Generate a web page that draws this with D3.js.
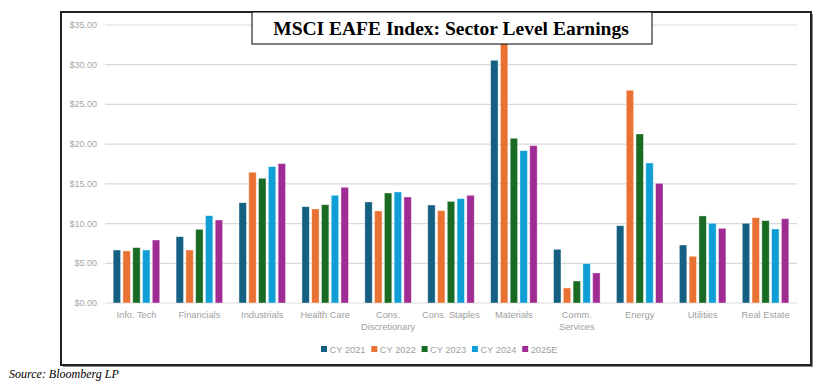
<!DOCTYPE html>
<html><head><meta charset="utf-8">
<script src="https://cdn.jsdelivr.net/npm/d3@7"></script>
<style>body{margin:0;background:#fff}svg{display:block}</style>
</head><body>
<svg id="c" width="828" height="391"></svg>
<script>
const categories = [["Info. Tech"],["Financials"],["Industrials"],["Health Care"],["Cons.","Discretionary"],["Cons. Staples"],["Materials"],["Comm.","Services"],["Energy"],["Utilities"],["Real Estate"]];
const seriesNames = ["CY 2021","CY 2022","CY 2023","CY 2024","2025E"];
const colors = ["#156082","#E97132","#196B24","#0F9ED5","#A02B93"];
const cy2021 = [6.67, 8.35, 12.63, 12.13, 12.72, 12.34, 30.56, 6.76, 9.74, 7.30, 10.04];
const cy2022 = [6.55, 6.67, 16.46, 11.84, 11.59, 11.63, 33.50, 1.89, 26.79, 5.88, 10.74];
const cy2023 = [6.97, 9.28, 15.70, 12.38, 13.85, 12.80, 20.74, 2.77, 21.28, 10.96, 10.37];
const cy2024 = [6.67, 11.00, 17.17, 13.56, 13.98, 13.14, 19.18, 4.95, 17.63, 10.04, 9.32];
const e2025 = [7.93, 10.45, 17.55, 14.57, 13.35, 13.56, 19.81, 3.78, 15.07, 9.40, 10.62];
const yTicks = [0,5,10,15,20,25,30,35];
const title = "MSCI EAFE Index: Sector Level Earnings";
const source = "Source: Bloomberg LP";
const series = [cy2021, cy2022, cy2023, cy2024, e2025];

const svg = d3.select("#c");
// frame with shadow
svg.append("rect").attr("x",63).attr("y",14).attr("width",750).attr("height",353).attr("fill","#888");
svg.append("rect").attr("x",61).attr("y",12).attr("width",750).attr("height",353).attr("fill","#fff").attr("stroke","#222").attr("stroke-width",2);

const x0 = d3.scaleBand().domain(d3.range(categories.length)).range([105,797]).paddingInner(0.26).paddingOuter(0.13);
const x1 = d3.scaleBand().domain(d3.range(series.length)).range([0,x0.bandwidth()]).paddingInner(0.24);
const y = d3.scaleLinear().domain([0,35]).range([303,25]);

const font = "'Liberation Sans', Arial, sans-serif";
// grid
svg.append("g").selectAll("line").data(yTicks).join("line")
  .attr("x1",105).attr("x2",797).attr("y1",d=>y(d)).attr("y2",d=>y(d))
  .attr("stroke","#d9d9d9").attr("stroke-width",1.2);
svg.append("g").selectAll("text").data(yTicks).join("text")
  .attr("x",97).attr("y",d=>y(d)+3).attr("text-anchor","end")
  .attr("font-family",font).attr("font-size",9).attr("fill","#a6a6a6")
  .text(d=>"$"+d.toFixed(2));

// bars
series.forEach((vals,si)=>{
  svg.append("g").selectAll("rect").data(vals).join("rect")
    .attr("x",(d,i)=>x0(i)+x1(si)).attr("width",x1.bandwidth())
    .attr("y",d=>y(d)).attr("height",d=>y(0)-y(d))
    .attr("fill",colors[si]).attr("stroke","#fff").attr("stroke-opacity",0.5).attr("stroke-width",0.8);
});

// category labels
const cl = svg.append("g");
categories.forEach((lines,i)=>{
  const t = cl.append("text").attr("x",x0(i)+x0.bandwidth()/2).attr("y",318)
    .attr("text-anchor","middle").attr("font-family",font).attr("font-size",9.3).attr("fill","#a0a0a0");
  lines.forEach((l,k)=>t.append("tspan").attr("x",x0(i)+x0.bandwidth()/2).attr("dy",k?12:0).text(l));
});

// legend
const lg = svg.append("g");
seriesNames.forEach((n,i)=>{
  const lx = 321 + i*50.3;
  lg.append("rect").attr("x",lx).attr("y",346).attr("width",6).attr("height",6).attr("fill",colors[i]);
  lg.append("text").attr("x",lx+8.5).attr("y",352.5).attr("font-family",font).attr("font-size",9.3).attr("fill","#a0a0a0").text(n);
});

// title box
svg.append("rect").attr("x",252).attr("y",12).attr("width",400).attr("height",32).attr("fill","#fff").attr("stroke","#000").attr("stroke-width",1);
svg.append("text").attr("x",451).attr("y",35).attr("text-anchor","middle")
  .attr("font-family","'Liberation Serif','Times New Roman',serif").attr("font-weight","bold").attr("font-size",19.5).attr("fill","#000").text(title);

svg.append("text").attr("x",9).attr("y",378).attr("font-family","'Liberation Serif','Times New Roman',serif")
  .attr("font-style","italic").attr("font-size",12).attr("fill","#000").text(source);
</script>
</body></html>
